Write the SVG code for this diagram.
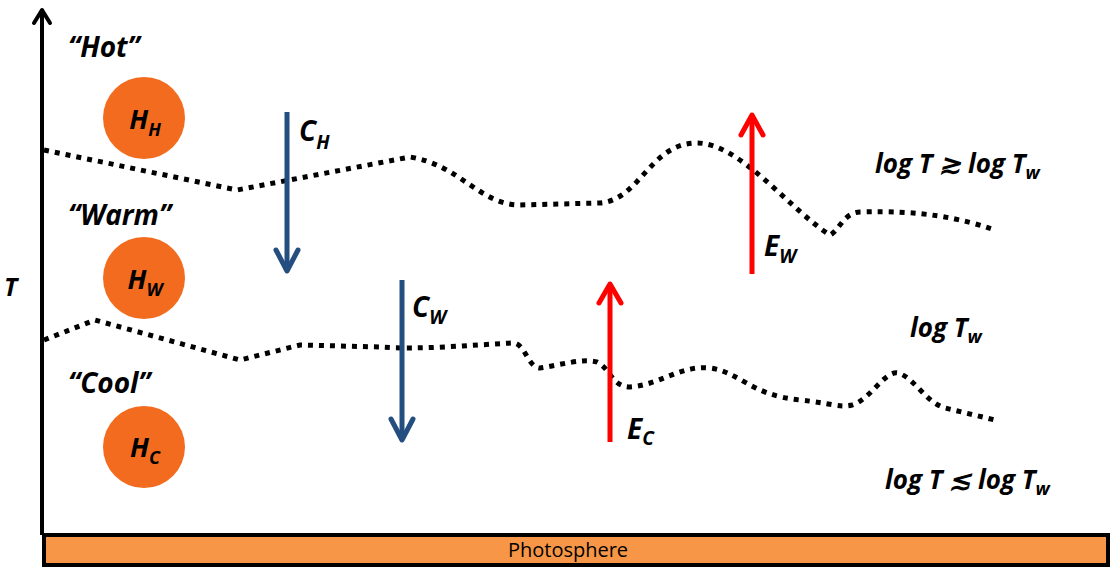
<svg xmlns="http://www.w3.org/2000/svg" width="1115" height="570" viewBox="0 0 1115 570">
<style>
.lbl{font-family:"Open Sans","Noto Sans","Liberation Sans",sans-serif;font-style:italic;font-weight:bold;fill:#000}
.dot{fill:none;stroke:#000;stroke-width:5;stroke-dasharray:5 6}
.blue{stroke:#254E80;stroke-width:5;fill:none}
.red{stroke:#FF0000;stroke-width:5;fill:none}
.node{fill:#F26B1F}
</style>
<rect width="1115" height="570" fill="#fff"/>
<g id="axis">
<line x1="42" y1="9" x2="42" y2="535" stroke="#000" stroke-width="4"/>
<polyline points="34,23 42,10 50,23" fill="none" stroke="#000" stroke-width="4" stroke-linecap="round" stroke-linejoin="round"/>
<text class="lbl" x="4" y="296" font-size="25">T</text>
</g>
<g id="photosphere">
<rect x="44" y="535" width="1064" height="30" fill="#F79646" stroke="#000" stroke-width="4"/>
<text x="568" y="557" font-family="'Open Sans','Liberation Sans',sans-serif" font-size="20" text-anchor="middle" fill="#000">Photosphere</text>
</g>
<g id="regions">
<text class="lbl" x="68" y="57" font-size="28">“Hot”</text>
<text class="lbl" x="68" y="225" font-size="28">“Warm”</text>
<text class="lbl" x="68" y="393" font-size="28">“Cool”</text>
<text class="lbl" x="875" y="173" font-size="26">log T ≳ log T<tspan font-size="18" dy="6">w</tspan></text>
<text class="lbl" x="910" y="337" font-size="26">log T<tspan font-size="18" dy="6">w</tspan></text>
<text class="lbl" x="885" y="489" font-size="26">log T ≲ log T<tspan font-size="18" dy="6">w</tspan></text>
</g>
<g id="node-HH">
<circle class="node" cx="144" cy="118" r="41"/>
<text class="lbl" x="145" y="129" font-size="27" text-anchor="middle">H<tspan font-size="18" dy="7">H</tspan></text>
</g>
<g id="node-HW">
<circle class="node" cx="144" cy="278" r="41"/>
<text class="lbl" x="145" y="289" font-size="27" text-anchor="middle">H<tspan font-size="18" dy="7">W</tspan></text>
</g>
<g id="node-HC">
<circle class="node" cx="144" cy="447" r="41"/>
<text class="lbl" x="145" y="457" font-size="27" text-anchor="middle">H<tspan font-size="18" dy="7">C</tspan></text>
</g>
<g id="connectors">
<path class="dot" d="M44,150 L237,190 L410,157 C460,165 480,205 520,205 L600,203 C640,200 650,143 697,143 C740,143 790,210 830,235 C840,230 843,213 860,212 C920,210 960,218 995,230"/>
<path class="dot" d="M44,340 L95,320 L240,360 L300,345 L380,347 C420,350 470,345 513,343 C525,343 528,368 540,368 C560,365 583,358 597,362 C610,368 612,387 630,387 C660,385 680,365 710,368 C740,372 750,395 800,400 C830,403 840,408 852,405 C870,400 885,370 898,373 C915,378 925,402 945,408 L995,420"/>
<g id="arrow-CH">
<line class="blue" x1="287" y1="112" x2="287" y2="271"/>
<polyline class="blue" points="276,250 287,271 298,250" stroke-linecap="round" stroke-linejoin="round"/>
<text class="lbl" x="299" y="141" font-size="28">C<tspan font-size="19" dy="8">H</tspan></text>
</g>
<g id="arrow-CW">
<line class="blue" x1="402" y1="280" x2="402" y2="440"/>
<polyline class="blue" points="391,419 402,440 413,419" stroke-linecap="round" stroke-linejoin="round"/>
<text class="lbl" x="412" y="317" font-size="28">C<tspan font-size="19" dy="7">W</tspan></text>
</g>
<g id="arrow-EW">
<line class="red" x1="752" y1="274" x2="752" y2="115"/>
<polyline class="red" points="741,135 752,115 763,135" stroke-linecap="round" stroke-linejoin="round"/>
<text class="lbl" x="764" y="256" font-size="28">E<tspan font-size="19" dy="7">W</tspan></text>
</g>
<g id="arrow-EC">
<line class="red" x1="610" y1="442" x2="610" y2="284"/>
<polyline class="red" points="599,303 610,284 621,303" stroke-linecap="round" stroke-linejoin="round"/>
<text class="lbl" x="627" y="439" font-size="28">E<tspan font-size="19" dy="6">C</tspan></text>
</g>
</g>
</svg>
